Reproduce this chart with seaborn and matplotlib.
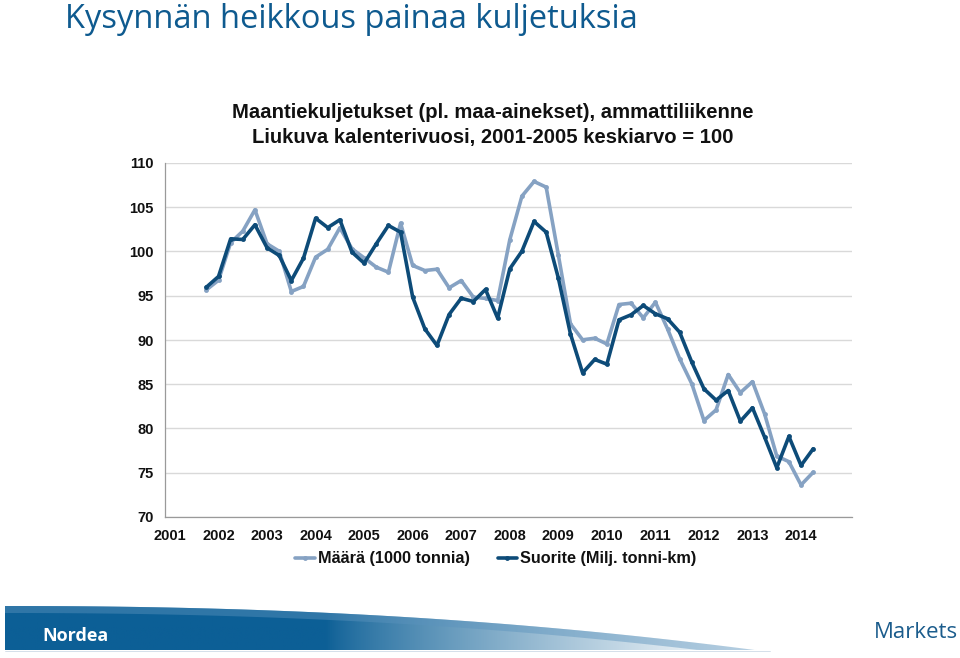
import numpy as np
import pandas as pd
import matplotlib
matplotlib.use("Agg")
import matplotlib.pyplot as plt
from matplotlib.path import Path
from matplotlib.patches import PathPatch
from matplotlib.lines import Line2D
import seaborn as sns

# ---- data (quarterly, 2001 Q4 .. 2014 Q2) ----
start_year, start_q = 2001, 4
maara = [95.67, 96.75, 101.0, 102.3, 104.71, 100.87, 100.03, 95.48, 96.05, 99.36,
         100.25, 102.68, 100.3, 99.28, 98.23, 97.66, 103.2, 98.42, 97.85, 98.0,
         95.9, 96.72, 94.84, 94.7, 94.46, 101.32, 106.25, 107.91, 107.27, 99.62,
         91.83, 90.02, 90.2, 89.55, 94.01, 94.16, 92.5, 94.27, 91.26, 87.88,
         85.05, 80.9, 82.1, 86.1, 84.05, 85.29, 81.64, 76.89, 76.25, 73.62, 75.05]
suorite = [95.97, 97.18, 101.43, 101.36, 103.02, 100.42, 99.55, 96.72, 99.24, 103.76,
           102.7, 103.58, 99.92, 98.68, 100.87, 102.94, 102.18, 94.84, 91.26, 89.38,
           92.88, 94.72, 94.35, 95.71, 92.47, 98.04, 100.03, 103.39, 102.18, 97.02,
           90.69, 86.29, 87.8, 87.27, 92.28, 92.85, 93.9, 92.96, 92.4, 90.88,
           87.49, 84.48, 83.2, 84.29, 80.82, 82.34, 79.02, 75.56, 79.1, 75.82, 77.7]
years = list(range(2001, 2015))
series_names = ["Määrä (1000 tonnia)", "Suorite (Milj. tonni-km)"]

title = "Kysynnän heikkous painaa kuljetuksia"
chart_title_1 = "Maantiekuljetukset (pl. maa-ainekset), ammattiliikenne"
chart_title_2 = "Liukuva kalenterivuosi, 2001-2005 keskiarvo = 100"

# quarter position: 0 = 2001 Q1
n = len(maara)
qpos = [(start_year - 2001) * 4 + (start_q - 1) + i for i in range(n)]
df = pd.DataFrame({
    "q": qpos * 2,
    "v": maara + suorite,
    "s": [series_names[0]] * n + [series_names[1]] * n,
})

sns.set_theme(style="white")
plt.rcParams["font.family"] = ["Liberation Sans", "DejaVu Sans"]

fig = plt.figure(figsize=(9.6, 6.58), dpi=100)
W, H = 960, 658
ax = fig.add_axes([165 / W, (H - 517) / H, (852 - 165) / W, (517 - 163) / H])

pal = {series_names[0]: "#86a2c3", series_names[1]: "#0d4b78"}
sns.lineplot(data=df, x="q", y="v", hue="s", palette=pal, ax=ax,
             marker="o", markersize=3.5, markeredgewidth=0, linewidth=2.6,
             legend=False)

ax.set_xlim(-0.41, 56.2)
ax.set_ylim(70, 110)
ax.set_yticks(np.arange(70, 111, 5))
ax.set_xticks([(y - 2001) * 4 for y in years])
ax.set_xticklabels([str(y) for y in years])
ax.set_xticks([-0.41 + 4 * k for k in range(15)], minor=True)
ax.tick_params(axis="x", which="major", length=0, pad=9, labelsize=10.5)
ax.tick_params(axis="x", which="minor", length=4, direction="in", color="#9a9a9a", width=0.8)
ax.tick_params(axis="y", length=0, pad=8, labelsize=10.5)
for lab in ax.get_xticklabels() + ax.get_yticklabels():
    lab.set_fontweight("bold")
    lab.set_color("#111111")
ax.set_xlabel("")
ax.set_ylabel("")
ax.grid(axis="y", color="#d9d9d9", linewidth=1.0)
ax.grid(axis="x", visible=False)
for side in ["top", "right"]:
    ax.spines[side].set_visible(False)
for side in ["left", "bottom"]:
    ax.spines[side].set_color("#9a9a9a")
    ax.spines[side].set_linewidth(0.9)

# chart title
for txt, yy in [(chart_title_1, 113), (chart_title_2, 137)]:
    fig.text(493 / W, 1 - yy / H, txt, ha="center", va="center",
             fontsize=14.6, fontweight="bold", color="#111111")

# slide title, sized to span the reference width
ttl = fig.text(65 / W, 1 - 19 / H, title, ha="left", va="center", fontsize=24,
               color="#0e5a8f", family=["Open Sans", "DejaVu Sans"])
renderer = fig.canvas.get_renderer()
bb = ttl.get_window_extent(renderer)
ttl.set_fontsize(24 * 575 / bb.width)

# legend
handles = [Line2D([0], [0], color=pal[s], lw=2.6, marker="o", markersize=3.5,
                  markeredgewidth=0) for s in series_names]
leg = fig.legend(handles, series_names, loc="center", bbox_to_anchor=(496 / W, 1 - 559 / H),
                 ncol=2, frameon=False, handlelength=1.2, handletextpad=0.2,
                 columnspacing=1.7, prop={"weight": "bold", "size": 11.7})
for t in leg.get_texts():
    t.set_color("#111111")

# footer band with gradient
fax = fig.add_axes([0, 0, 1, 1], zorder=-1)
fax.set_xlim(0, W)
fax.set_ylim(H, 0)
fax.axis("off")
xs = np.linspace(5, 770, 200)
top = 606 + 46 * ((xs - 5) / 765) ** 2.2
verts = [(5, 650)] + list(zip(xs, top)) + [(770, 650), (5, 650)]
codes = [Path.MOVETO] + [Path.LINETO] * (len(verts) - 2) + [Path.CLOSEPOLY]
band = PathPatch(Path(verts, codes), facecolor="none", edgecolor="none")
fax.add_patch(band)
gx = np.linspace(0, 1, 400)
grad = np.clip((gx - 0.42) / 0.55, 0, 1) ** 0.8
c0 = np.array([0x0c, 0x5f, 0x96]) / 255
c1 = np.array([1.0, 1.0, 1.0])
img = (c0[None, :] * (1 - grad[:, None]) + c1[None, :] * grad[:, None])[None, :, :]
im = fax.imshow(img, extent=[5, 770, 650, 604], aspect="auto", zorder=0)
im.set_clip_path(band)
# lighter top strip
xs2 = np.linspace(5, 770, 200)
top2 = 606 + 46 * ((xs2 - 5) / 765) ** 2.2
strip = np.concatenate([top2, (top2 + 7)[::-1]])
fax.fill(np.concatenate([xs2, xs2[::-1]]), np.minimum(strip, 650),
         color="#5b93bd", alpha=0.45, lw=0, zorder=1)
fax.plot([5, 770], [650.5, 650.5], color="#cfdbe6", lw=0.6)
fax.text(42, 636, "Nordea", color="white", fontsize=13, fontweight="bold",
         va="center", ha="left", family=["Open Sans", "DejaVu Sans"], zorder=3)
fax.text(958, 632, "Markets", color="#1b5c8c", fontsize=16, va="center", ha="right",
         family=["Open Sans", "DejaVu Sans"])

fig.savefig("out.png", dpi=100)
